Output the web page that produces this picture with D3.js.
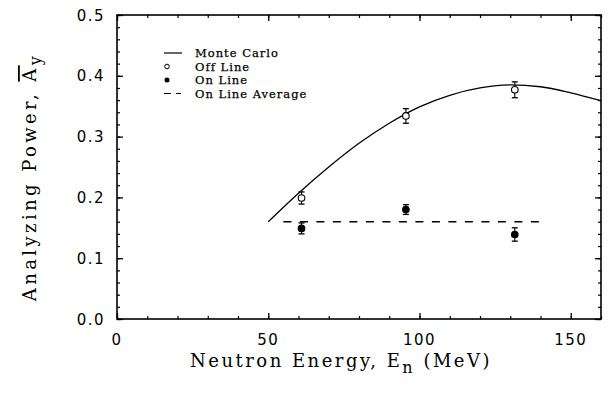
<!DOCTYPE html>
<html><head><meta charset="utf-8">
<script src="https://cdn.jsdelivr.net/npm/d3@7"></script>
<style>
html,body{margin:0;padding:0;background:#fff;}
svg{display:block;}
</style></head>
<body><svg id="chart" width="608" height="399"></svg>
<script>
// ---- data ----
const energies = [61, 95.5, 131.5];
const offLine = [0.199, 0.334, 0.377];
const offLineErr = [0.010, 0.012, 0.013];
const onLine = [0.149, 0.180, 0.139];
const onLineErr = [0.009, 0.008, 0.011];
const avgRange = [55, 140];
const avgValue = 0.16;
const mcEnergy = [50, 60, 70, 80, 90, 100, 110, 120, 130, 140, 150, 160];
const mcPower = [0.160, 0.207, 0.250, 0.289, 0.322, 0.349, 0.368, 0.380, 0.385, 0.382, 0.372, 0.359];
const xTicks = [0, 50, 100, 150];
const yTicks = [0.0, 0.1, 0.2, 0.3, 0.4, 0.5];
const legendLabels = ["Monte Carlo", "Off Line", "On Line", "On Line Average"];

const svg = d3.select("#chart");
const L = 117, R = 601, T = 15, B = 319;
const x = d3.scaleLinear().domain([0, 160]).range([L, R]);
const y = d3.scaleLinear().domain([0, 0.5]).range([B, T]);

const tickFont = "DejaVu Sans";
const serif = "DejaVu Serif";

// axes with inward ticks
const xMinor = d3.range(0, 161, 10);
const yMinor = d3.range(0, 0.5001, 0.02);
function drawAxis(axisFn, pos, major, minor, majorLen, minorLen) {
  const gMin = svg.append("g").attr("transform", pos)
    .call(axisFn.tickValues(minor).tickSize(minorLen).tickFormat(""));
  gMin.select(".domain").remove();
  gMin.selectAll("line").attr("stroke", "#000").attr("stroke-width", 1.2);
  const gMaj = svg.append("g").attr("transform", pos)
    .call(axisFn.tickValues(major).tickSize(majorLen).tickFormat(""));
  gMaj.select(".domain").remove();
  gMaj.selectAll("line").attr("stroke", "#000").attr("stroke-width", 1.3);
}
drawAxis(d3.axisTop(x), `translate(0,${B})`, xTicks, xMinor, 6, 3);
drawAxis(d3.axisBottom(x), `translate(0,${T})`, xTicks, xMinor, 6, 3);
drawAxis(d3.axisRight(y), `translate(${L},0)`, yTicks, yMinor, 6, 3);
drawAxis(d3.axisLeft(y), `translate(${R},0)`, yTicks, yMinor, 6, 3);

// frame
svg.append("rect").attr("x", L).attr("y", T).attr("width", R - L).attr("height", B - T)
  .attr("fill", "none").attr("stroke", "#000").attr("stroke-width", 1.6);

// tick labels
svg.append("g").selectAll("text").data(xTicks).join("text")
  .attr("x", d => x(d)).attr("y", 345)
  .attr("text-anchor", "middle")
  .attr("font-family", tickFont).attr("font-size", 15).attr("letter-spacing", 1.5)
  .text(d => d3.format("d")(d));
svg.append("g").selectAll("text").data(yTicks).join("text")
  .attr("x", 105).attr("y", d => y(d) + 5.5)
  .attr("text-anchor", "end")
  .attr("font-family", tickFont).attr("font-size", 15).attr("letter-spacing", 1.5)
  .text(d => d3.format(".1f")(d));

// axis titles
const xt = svg.append("text").attr("x", 341).attr("y", 367)
  .attr("text-anchor", "middle").attr("font-family", serif).attr("font-size", 18)
  .attr("letter-spacing", 2.5);
xt.append("tspan").text("Neutron Energy, E");
xt.append("tspan").attr("dy", 6).attr("font-size", 16).text("n");
xt.append("tspan").attr("dy", -6).text(" (MeV)");

const yt = svg.append("text").attr("transform", "translate(36,177) rotate(-90)")
  .attr("text-anchor", "middle").attr("font-family", serif).attr("font-size", 18)
  .attr("letter-spacing", 3.4);
yt.append("tspan").text("Analyzing Power, ");
yt.append("tspan").attr("text-decoration", "overline").style("text-decoration", "overline").text("A");
yt.append("tspan").attr("dy", 5).attr("font-size", 16).text("y");

// Monte Carlo curve
const line = d3.line().x(d => x(d[0])).y(d => y(d[1])).curve(d3.curveMonotoneX);
svg.append("path").datum(mcEnergy.map((e, i) => [e, mcPower[i]]))
  .attr("d", line).attr("fill", "none").attr("stroke", "#000").attr("stroke-width", 1.3);

// On line average
svg.append("line").attr("x1", x(avgRange[0])).attr("x2", x(avgRange[1]))
  .attr("y1", y(avgValue)).attr("y2", y(avgValue))
  .attr("stroke", "#000").attr("stroke-width", 1.4).attr("stroke-dasharray", "8,8.5");

// error bars + points
function drawSeries(vals, errs, filled) {
  const g = svg.append("g");
  energies.forEach((e, i) => {
    const cx = x(e), lo = y(vals[i] - errs[i]), hi = y(vals[i] + errs[i]);
    g.append("line").attr("x1", cx).attr("x2", cx).attr("y1", lo).attr("y2", hi)
      .attr("stroke", "#000").attr("stroke-width", 1.1);
    [lo, hi].forEach(v => g.append("line").attr("x1", cx - 3).attr("x2", cx + 3)
      .attr("y1", v).attr("y2", v).attr("stroke", "#000").attr("stroke-width", 1.3));
  });
  g.selectAll("circle").data(vals).join("circle")
    .attr("cx", (d, i) => x(energies[i])).attr("cy", d => y(d)).attr("r", 3.3)
    .attr("fill", filled ? "#000" : "#fff").attr("stroke", "#000").attr("stroke-width", 1.1);
}
drawSeries(offLine, offLineErr, false);
drawSeries(onLine, onLineErr, true);

// legend
const lg = svg.append("g");
const rowY = [53, 66.5, 80, 93.5];
lg.append("line").attr("x1", 164).attr("x2", 182).attr("y1", rowY[0]).attr("y2", rowY[0])
  .attr("stroke", "#000").attr("stroke-width", 1.2);
lg.append("circle").attr("cx", 167).attr("cy", rowY[1]).attr("r", 2.3)
  .attr("fill", "#fff").attr("stroke", "#000").attr("stroke-width", 1);
lg.append("circle").attr("cx", 167).attr("cy", rowY[2]).attr("r", 2.5).attr("fill", "#000");
lg.append("line").attr("x1", 164).attr("x2", 181).attr("y1", rowY[3]).attr("y2", rowY[3])
  .attr("stroke", "#000").attr("stroke-width", 1.2).attr("stroke-dasharray", "7,5");
lg.selectAll("text").data(legendLabels).join("text")
  .attr("x", 195).attr("y", (d, i) => rowY[i] + 4)
  .attr("font-family", serif).attr("font-size", 11.5).attr("letter-spacing", 1)
  .attr("stroke", "#000").attr("stroke-width", 0.25)
  .text(d => d);
</script></body></html>
